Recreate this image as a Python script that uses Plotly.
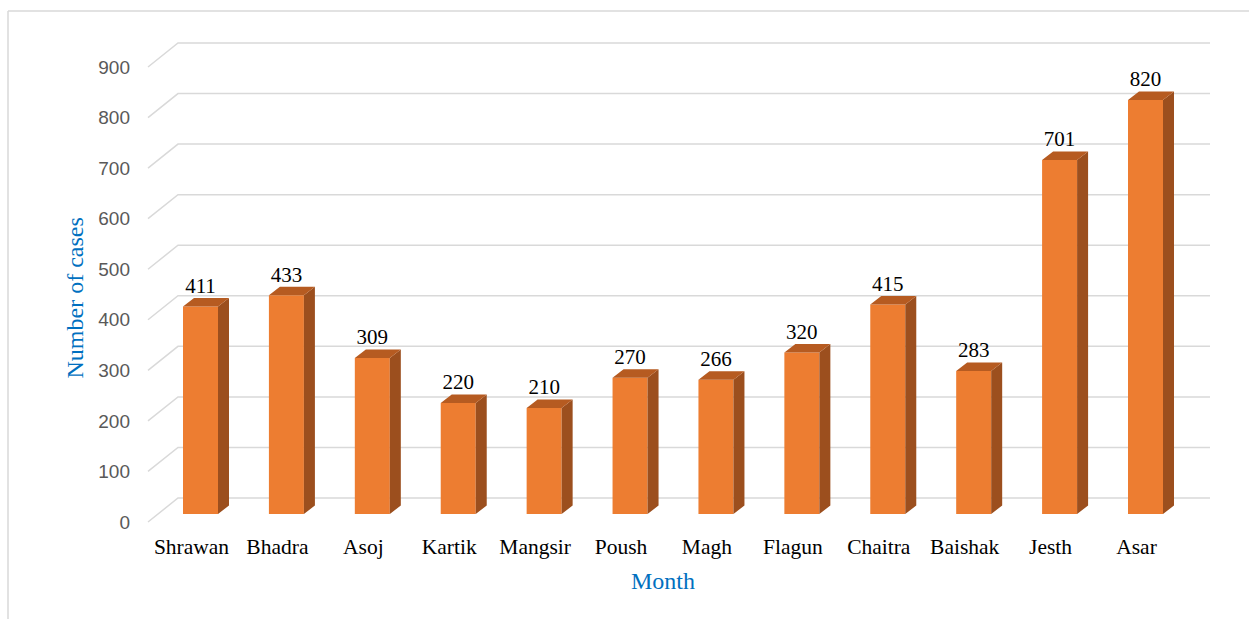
import plotly.graph_objects as go

# ---- data ----
months = ["Shrawan", "Bhadra", "Asoj", "Kartik", "Mangsir", "Poush",
          "Magh", "Flagun", "Chaitra", "Baishak", "Jesth", "Asar"]
cases = [411, 433, 309, 220, 210, 270, 266, 320, 415, 283, 701, 820]
y_ticks = [0, 100, 200, 300, 400, 500, 600, 700, 800, 900]

# ---- geometry (pixels of a 1249x619 canvas) ----
W, H = 1249, 619
def px(x):
    return x / W
def py(y):
    return 1 - y / H

FRONT = "#ED7D31"
SIDE = "#9C4F1E"
TOP = "#B65B21"
GRID = "#D9D9D9"

idx = list(range(len(months)))
unit_px = (1145.5 - 200.5) / 11.0           # pixels per category
bar_w = 35 / unit_px                          # bar width in category units
y2_scale = 454.5 / 900.0                      # pixels per case on bar axis
dx = 11 / unit_px                             # depth offset (x)
dy = 8.5 / y2_scale                           # depth offset (y)

x2_lo = -(200.5 - 148) / unit_px
x2_hi = (1210 - 200.5) / unit_px

# label axis: 0 -> 522 px, 900 -> 67 px ; back wall is 24 px higher, 30 px deeper
LAB0, LAB900 = 522.0, 67.0
def wall_px(t):
    return LAB0 + (LAB900 - LAB0) * t / 900.0 - 24.0

fig = go.Figure()

# invisible point so the tick-label subplot is registered
fig.add_trace(go.Scatter(x=[0.5], y=[0], mode="markers", marker=dict(size=1, opacity=0),
                         xaxis="x", yaxis="y", hoverinfo="skip", showlegend=False))

# side faces and top faces built from the data values
side_x, side_y, top_x, top_y = [], [], [], []
for i, v in zip(idx, cases):
    r = i + bar_w / 2
    l = i - bar_w / 2
    side_x += [r, r + dx, r + dx, r, r, None]
    side_y += [0, dy, v + dy, v, 0, None]
    top_x += [l, l + dx, r + dx, r, l, None]
    top_y += [v, v + dy, v + dy, v, v, None]

fig.add_trace(go.Bar(
    x=idx, y=cases, width=bar_w, marker=dict(color=FRONT, line=dict(width=0)),
    xaxis="x2", yaxis="y2", hoverinfo="skip", showlegend=False))
fig.add_trace(go.Scatter(
    x=side_x, y=side_y, fill="toself", fillcolor=SIDE, mode="lines",
    line=dict(width=0, color=SIDE), xaxis="x2", yaxis="y2",
    hoverinfo="skip", showlegend=False))
fig.add_trace(go.Scatter(
    x=top_x, y=top_y, fill="toself", fillcolor=TOP, mode="lines",
    line=dict(width=0, color=TOP), xaxis="x2", yaxis="y2",
    hoverinfo="skip", showlegend=False))
fig.add_trace(go.Scatter(
    x=idx, y=[v + dy for v in cases], mode="text",
    text=[str(v) for v in cases], textposition="top center",
    textfont=dict(family="Liberation Serif", size=21, color="#000000"),
    xaxis="x2", yaxis="y2", hoverinfo="skip", showlegend=False, cliponaxis=False))

# back-wall gridlines with their perspective diagonals
shapes = []
for t in y_ticks:
    yb = wall_px(t)
    shapes.append(dict(
        type="path", xref="paper", yref="paper", layer="below",
        path="M {a},{b} L {c},{d} L {e},{d}".format(
            a=px(148), b=py(yb + 24), c=px(178), d=py(yb), e=px(1210)),
        line=dict(color=GRID, width=1.5)))
# chart frame (top and left edges)
shapes.append(dict(type="line", xref="paper", yref="paper",
                   x0=px(8), x1=1.0, y0=py(11), y1=py(11),
                   line=dict(color="#D9D9D9", width=1.5)))
shapes.append(dict(type="line", xref="paper", yref="paper",
                   x0=px(8), x1=px(8), y0=py(11), y1=0,
                   line=dict(color="#D9D9D9", width=1.5)))

fig.update_layout(
    width=W, height=H,
    margin=dict(l=0, r=0, t=0, b=0, autoexpand=False),
    paper_bgcolor="white", plot_bgcolor="rgba(0,0,0,0)",
    showlegend=False,
    shapes=shapes,
    # tick-label axis
    xaxis=dict(domain=[px(178), px(1210)], range=[0, 1], anchor="y",
               visible=False, fixedrange=True),
    yaxis=dict(domain=[py(LAB0), py(LAB900)], range=[0, 900], anchor="x",
               tickvals=y_ticks, ticktext=[str(t) for t in y_ticks],
               showgrid=False, zeroline=False, showline=False, ticks="",
               ticklabelstandoff=47, ticklabeloverflow="allow",
               tickfont=dict(family="Liberation Sans", size=19, color="#595959")),
    # bar axes
    xaxis2=dict(domain=[px(148), px(1210)], range=[x2_lo, x2_hi], anchor="y2",
                tickvals=idx, ticktext=months, showgrid=False, zeroline=False,
                showline=False, ticks="", ticklabelshift=-9, ticklabelstandoff=17,
                ticklabeloverflow="allow",
                tickfont=dict(family="Liberation Serif", size=21.5, color="#000000")),
    yaxis2=dict(domain=[py(514), py(514 - 454.5)], range=[0, 900], anchor="x2",
                visible=False, showgrid=False, zeroline=False),
    annotations=[
        dict(text="Number of cases", xref="paper", yref="paper",
             x=px(74.5), y=py(298), textangle=-90, showarrow=False,
             xanchor="center", yanchor="middle",
             font=dict(family="Liberation Serif", size=24, color="#0070C0")),
        dict(text="Month", xref="paper", yref="paper",
             x=px(663), y=py(581), showarrow=False,
             xanchor="center", yanchor="middle",
             font=dict(family="Liberation Serif", size=24, color="#0070C0")),
    ],
)

fig.write_html("out.html", config={"displayModeBar": False},
               post_script="document.body.style.margin='0';")
